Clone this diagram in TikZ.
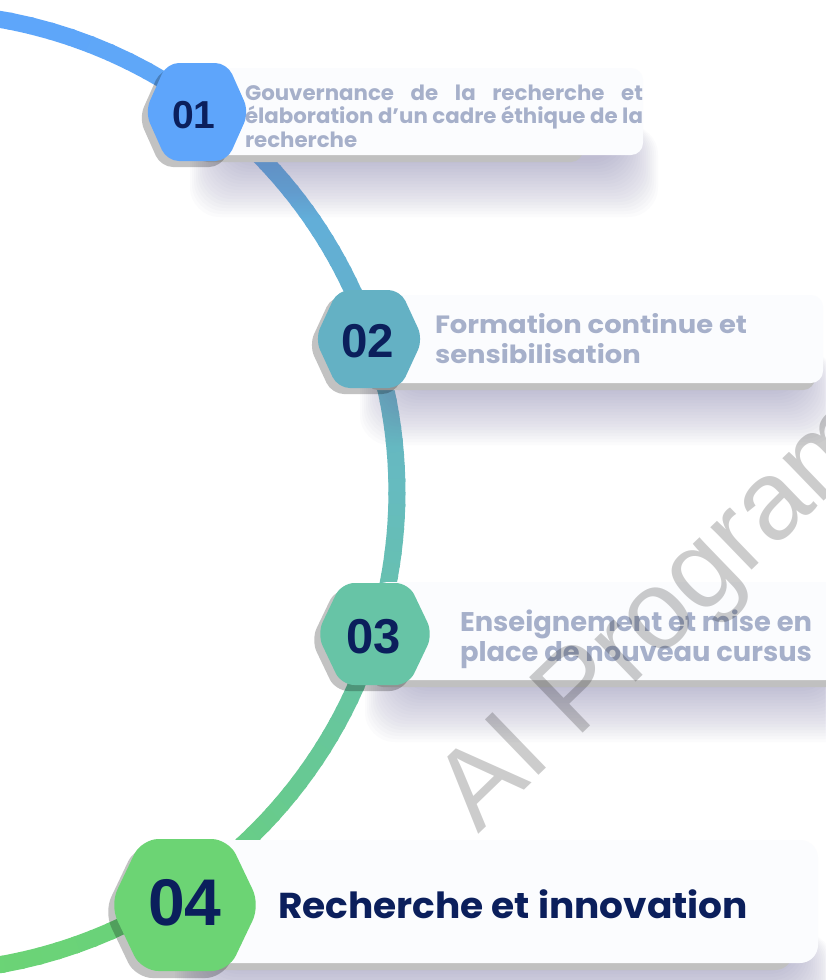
\documentclass[tikz,border=0pt]{standalone}
\usepackage{fontspec}
\usepackage{graphicx}
\newfontfamily\txtfont{Poppins}
\newfontfamily\numfont{Liberation Sans}
\newfontfamily\wmfont{Liberation Sans}
\definecolor{L0}{HTML}{5EA6FB}
\definecolor{L1}{HTML}{5FA7F6}
\definecolor{L2}{HTML}{62AEDB}
\definecolor{L3}{HTML}{64B2C6}
\definecolor{L4}{HTML}{66BBBF}
\definecolor{L5}{HTML}{67C3A8}
\definecolor{L6}{HTML}{67C993}
\definecolor{L7}{HTML}{6AD17C}
\definecolor{L8}{HTML}{6BD475}
\definecolor{hexA}{HTML}{5EA5FB}
\definecolor{hexB}{HTML}{64B1C4}
\definecolor{hexC}{HTML}{67C4A6}
\definecolor{hexD}{HTML}{6CD474}
\definecolor{navy}{HTML}{0B1F5C}
\definecolor{txtgray}{HTML}{A6B0CA}
\definecolor{cardc}{HTML}{FBFCFE}
\definecolor{glowc}{HTML}{7D78A8}
\definecolor{shadowc}{HTML}{C0C0C0}
\newlength\wA \newlength\wB \newlength\wC \newlength\wD
\newcommand\fA{\txtfont\bfseries\fontsize{21}{24}\selectfont}
\newcommand\fB{\txtfont\bfseries\fontsize{25}{30}\selectfont}
\newcommand\fC{\txtfont\bfseries\fontsize{27}{30}\selectfont}
\newcommand\fD{\txtfont\bfseries\fontsize{36}{40}\selectfont}
\newcommand\hexat[4]{({#1-#3/2},{#2}) -- ({#1-0.29*#3},{#2-#4/2}) -- ({#1+0.29*#3},{#2-#4/2}) -- ({#1+#3/2},{#2}) -- ({#1+0.29*#3},{#2+#4/2}) -- ({#1-0.29*#3},{#2+#4/2}) -- cycle}
\newcommand\glowbox[4]{%
  \foreach \k in {1,...,20}{%
    \fill[glowc, opacity=0.028, rounded corners=30pt] ({#1+30-2*\k},{#4-30}) rectangle ({#3-25+2*\k},{#4+2+3*\k});
  }}
\newcommand\cardbox[6]{% x1 y1 x2 y2 shadowright radius
  \fill[shadowc, rounded corners=#6] ({#1-4},{#2+8}) rectangle (#5,{#4+7});
  \fill[cardc, rounded corners=#6] (#1,#2) rectangle (#3,#4);}
\begin{document}
\settowidth\wA{\fA élaboration d’un cadre éthique de la}%
\settowidth\wB{\fB Formation continue et}%
\settowidth\wC{\fC Enseignement et mise en}%
\settowidth\wD{\fD Recherche et innovation}%
\pgfmathsetmacro\sA{398/\wA}%
\pgfmathsetmacro\sB{312/\wB}%
\pgfmathsetmacro\sC{352/\wC}%
\pgfmathsetmacro\sD{470/\wD}%
\begin{tikzpicture}[x=1pt,y=-1pt,
  txt/.style={inner sep=0pt, outer sep=0pt, anchor=base west},
  num/.style={inner sep=0pt, outer sep=0pt, anchor=base, text=navy}]
\path[use as bounding box, fill=white] (0,0) rectangle (825,980);
% the arc
\foreach \aa/\ab/\ca/\cb in {-84/-54/L0/L1, -54/-36/L1/L2, -36/-19/L2/L3, -19/0/L3/L4, 0/17/L4/L5, 17/37/L5/L6, 37/57/L6/L7, 57/84/L7/L8}{
  \foreach \i in {0,...,11}{
    \pgfmathsetmacro\s{\aa+(\ab-\aa)*\i/12}
    \pgfmathsetmacro\e{\aa+(\ab-\aa)*(\i+1)/12+0.4}
    \pgfmathtruncatemacro\p{100*(\i+0.5)/12}
    \draw[line width=17pt, color=\cb!\p!\ca] ({-83+480*cos(\s)},{492+480*sin(\s)}) -- ({-83+480*cos(\e)},{492+480*sin(\e)});
  }
}
% glows
\glowbox{200}{68}{643}{155}
\glowbox{370}{295}{823}{383}
\glowbox{375}{582}{850}{680}
\glowbox{185}{840}{818}{963}
% cards
\cardbox{200}{68}{643}{155}{583}{12pt}
\cardbox{370}{295}{823}{383}{815}{12pt}
\cardbox{375}{582}{850}{680}{850}{12pt}
\cardbox{185}{840}{818}{963}{793}{18pt}
% hexagons
\fill[black, opacity=.24, rounded corners=12pt] \hexat{191}{118}{104}{98};
\fill[hexA, rounded corners=12pt] \hexat{197}{112}{104}{98};
\fill[black, opacity=.24, rounded corners=12pt] \hexat{363}{345}{108}{98};
\fill[hexB, rounded corners=12pt] \hexat{369}{339}{108}{98};
\fill[black, opacity=.24, rounded corners=13pt] \hexat{369}{640}{116}{102};
\fill[hexC, rounded corners=13pt] \hexat{375}{634}{116}{102};
\fill[black, opacity=.24, rounded corners=17pt] \hexat{179}{912}{150}{132};
\fill[hexD, rounded corners=17pt] \hexat{185}{905}{150}{132};
% numbers
\node[num, font=\numfont\bfseries\fontsize{39}{39}\selectfont] (n1) at (194,128) {01};
\node[num, font=\numfont\bfseries\fontsize{47.5}{48}\selectfont] (n2) at (367.5,357) {02};
\node[num, font=\numfont\bfseries\fontsize{49}{49}\selectfont] (n3) at (373.5,653) {03};
\node[num, font=\numfont\bfseries\fontsize{66}{66}\selectfont] (n4) at (185,925) {04};
% texts
\node[txt, text=txtgray] (t1a) at (245,100) {\scalebox{\sA}[1]{\fA\makebox[\wA][s]{Gouvernance de la recherche et}}};
\node[txt, text=txtgray] (t1b) at (245,123.5) {\scalebox{\sA}[1]{\fA élaboration d’un cadre éthique de la}};
\node[txt, text=txtgray] (t1c) at (245,147) {\scalebox{\sA}[1]{\fA recherche}};
\node[txt, text=txtgray] (t2a) at (435,333) {\scalebox{\sB}[1]{\fB Formation continue et}};
\node[txt, text=txtgray] (t2b) at (435,363) {\scalebox{\sB}[1]{\fB sensibilisation}};
\node[txt, text=txtgray] (t3a) at (460,631) {\scalebox{\sC}[1]{\fC Enseignement et mise en}};
\node[txt, text=txtgray] (t3b) at (460,661) {\scalebox{\sC}[1]{\fC place de nouveau cursus}};
\node[txt, text=navy] (t4) at (278,918) {\scalebox{\sD}[1]{\fD Recherche et innovation}};
% watermark
\node[anchor=base west, inner sep=0pt, rotate=44, text=black, text opacity=0.2, font=\wmfont\fontsize{112}{112}\selectfont] (wm) at (478,835) {AI Program};
\end{tikzpicture}
\end{document}
